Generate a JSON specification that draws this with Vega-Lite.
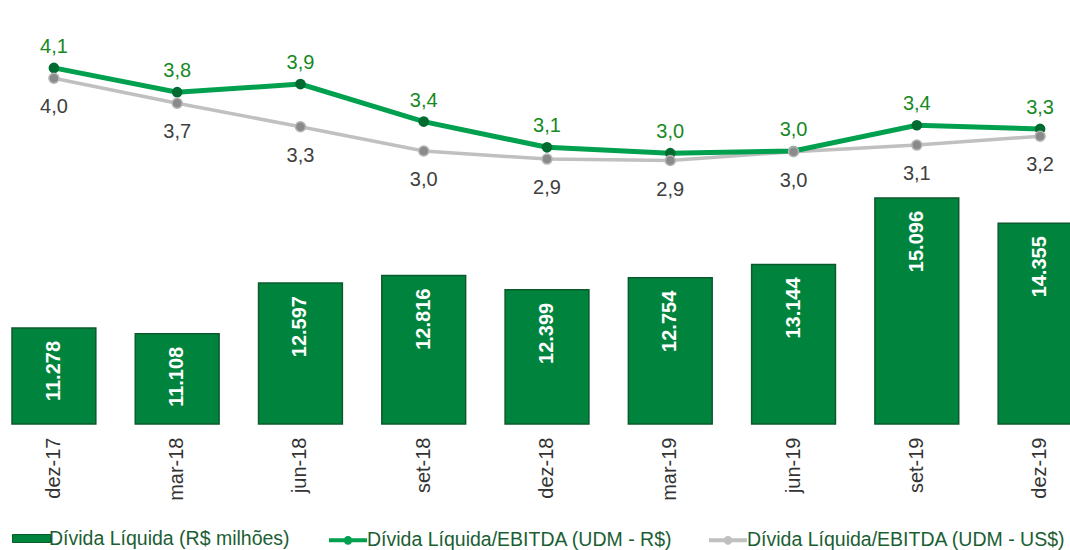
{
  "$schema": "https://vega.github.io/schema/vega-lite/v6.json",
  "width": 1058,
  "height": 424,
  "autosize": {"type": "none"},
  "padding": {"left": 12, "top": 0, "right": 0, "bottom": 126},
  "data": {
    "values": [
      {"periodo": "dez-17", "divida": 11278, "rs": 4.14, "us": 4.00},
      {"periodo": "mar-18", "divida": 11108, "rs": 3.81, "us": 3.66},
      {"periodo": "jun-18", "divida": 12597, "rs": 3.92, "us": 3.34},
      {"periodo": "set-18", "divida": 12816, "rs": 3.41, "us": 3.01},
      {"periodo": "dez-18", "divida": 12399, "rs": 3.06, "us": 2.90},
      {"periodo": "mar-19", "divida": 12754, "rs": 2.98, "us": 2.88},
      {"periodo": "jun-19", "divida": 13144, "rs": 3.01, "us": 3.00},
      {"periodo": "set-19", "divida": 15096, "rs": 3.36, "us": 3.09},
      {"periodo": "dez-19", "divida": 14355, "rs": 3.31, "us": 3.21}
    ]
  },
  "encoding": {
    "x": {
      "field": "periodo",
      "type": "nominal",
      "sort": null,
      "scale": {"paddingInner": 0.32, "paddingOuter": 0, "range": [0, 1070]},
      "axis": {
        "title": null,
        "labelAngle": -90,
        "labelAlign": "right",
        "labelBaseline": "middle",
        "labelFont": "Liberation Sans",
        "labelFontSize": 20,
        "labelColor": "#333333",
        "domain": false,
        "ticks": false,
        "tickSize": 0,
        "labelPadding": 13,
        "grid": false
      }
    }
  },
  "layer": [
    {
      "encoding": {
        "y": {
          "field": "divida",
          "type": "quantitative",
          "scale": {"domain": [8458, 20910], "zero": false, "clamp": true, "nice": false},
          "axis": null
        }
      },
      "layer": [
        {
          "mark": {"type": "bar", "stroke": "#0b5a2c", "strokeWidth": 1.5},
          "encoding": {
            "color": {
              "datum": "Dívida Líquida (R$ milhões)",
              "scale": {"domain": ["Dívida Líquida (R$ milhões)"], "range": ["#00843d"]},
              "legend": {
                "title": null,
                "orient": "bottom",
                "direction": "horizontal",
                "offset": 18,
                "padding": 0,
                "symbolType": "M-1,-0.21H1V0.21H-1Z",
                "symbolSize": 1444,
                "symbolStrokeColor": "#0b5a2c",
                "symbolStrokeWidth": 1,
                "labelOffset": -2,
                "labelFont": "Liberation Sans",
                "labelFontSize": 19.5,
                "labelColor": "#1b5e33",
                "labelLimit": 600
              }
            }
          }
        },
        {
          "mark": {
            "type": "text",
            "angle": -90,
            "align": "right",
            "baseline": "middle",
            "dx": -13,
            "font": "Liberation Sans",
            "fontSize": 20,
            "fontWeight": "bold",
            "color": "#ffffff"
          },
          "encoding": {
            "text": {"field": "divida", "type": "quantitative", "format": ",.0f"}
          }
        }
      ]
    },
    {
      "encoding": {
        "stroke": {
          "datum": "Dívida Líquida/EBITDA (UDM - R$)",
          "scale": {"domain": ["Dívida Líquida/EBITDA (UDM - R$)", "Dívida Líquida/EBITDA (UDM - US$)"], "range": ["#00a04f", "#c0c0c0"]},
          "legend": {
            "title": null,
            "orient": "bottom",
            "direction": "horizontal",
            "offset": 18,
            "padding": 0,
            "symbolType": "M-1,0H1M-0.12,0A0.12,0.12,0,1,0,0.12,0A0.12,0.12,0,1,0,-0.12,0Z",
            "symbolSize": 1444,
            "symbolStrokeWidth": 4,
            "columnPadding": 28,
            "labelOffset": -2,
            "labelFont": "Liberation Sans",
            "labelFontSize": 19.5,
            "labelColor": "#1b5e33",
            "labelLimit": 600
          }
        }
      },
      "layer": [
        {
          "mark": {"type": "line", "strokeWidth": 3.5},
          "encoding": {
            "y": {"field": "us", "type": "quantitative", "scale": {"domain": [-0.704, 5.064], "zero": false, "nice": false}, "axis": null},
            "stroke": {"datum": "Dívida Líquida/EBITDA (UDM - US$)"}
          }
        },
        {
          "mark": {"type": "line", "strokeWidth": 5},
          "encoding": {
            "y": {"field": "rs", "type": "quantitative", "scale": {"domain": [-0.704, 5.064], "zero": false, "nice": false}, "axis": null}
          }
        },
        {
          "mark": {"type": "point", "filled": true, "color": "#006b30", "size": 75, "opacity": 1},
          "encoding": {
            "y": {"field": "rs", "type": "quantitative", "scale": {"domain": [-0.704, 5.064], "zero": false, "nice": false}, "axis": null},
            "stroke": {"value": "#006b30"}
          }
        },
        {
          "mark": {"type": "point", "filled": true, "color": "#8a8a8a", "strokeWidth": 1.5, "size": 100, "opacity": 1},
          "encoding": {
            "y": {"field": "us", "type": "quantitative", "scale": {"domain": [-0.704, 5.064], "zero": false, "nice": false}, "axis": null},
            "stroke": {"value": "#b5b5b5"}
          }
        },
        {
          "mark": {"type": "text", "font": "Liberation Sans", "fontSize": 20, "color": "#16891f", "baseline": "alphabetic", "dy": -15},
          "encoding": {
            "y": {"field": "rs", "type": "quantitative", "scale": {"domain": [-0.704, 5.064], "zero": false, "nice": false}, "axis": null},
            "text": {"field": "rs", "type": "quantitative", "format": ".1f"},
            "stroke": {"value": null}
          }
        },
        {
          "mark": {"type": "text", "font": "Liberation Sans", "fontSize": 20, "color": "#404040", "baseline": "alphabetic", "dy": 35},
          "encoding": {
            "y": {"field": "us", "type": "quantitative", "scale": {"domain": [-0.704, 5.064], "zero": false, "nice": false}, "axis": null},
            "text": {"field": "us", "type": "quantitative", "format": ".1f"},
            "stroke": {"value": null}
          }
        }
      ]
    }
  ],
  "resolve": {"scale": {"y": "independent"}},
  "config": {
    "view": {"stroke": null},
    "legend": {"layout": {"bottom": {"anchor": "start", "direction": "horizontal", "margin": 37}}},
    "locale": {"number": {"decimal": ",", "thousands": ".", "grouping": [3], "currency": ["R$", ""]}}
  }
}
